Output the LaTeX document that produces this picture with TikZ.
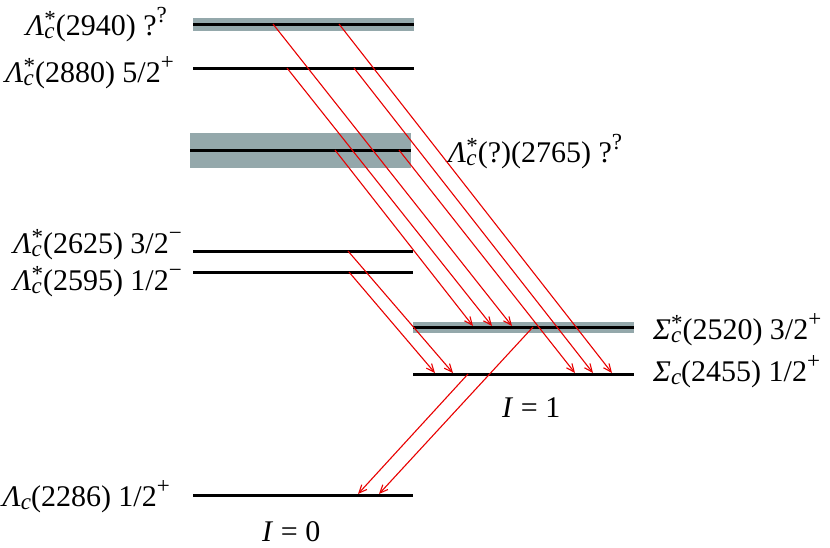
\documentclass[tikz,border=0pt]{standalone}
\usepackage{fontspec}
\setmainfont{Liberation Serif}
\usetikzlibrary{arrows.meta}
\definecolor{bandgray}{RGB}{148,168,171}
\definecolor{arrred}{RGB}{232,0,0}
\newcommand\subsz{\fontsize{23}{23}\selectfont}
\newcommand\pst[1]{\textit{#1}\raisebox{-0.13em}{\rlap{\subsz\textit{c}}}\raisebox{0.3em}{\subsz *}}
\newcommand\pns[1]{\textit{#1}\raisebox{-0.13em}{\subsz\textit{c}}}
\newcommand\spx[1]{\raisebox{0.43em}{\subsz #1}}
\begin{document}
\begin{tikzpicture}[x=1pt,y=-1pt,
  lvl/.style={line width=3pt,black},
  band/.style={fill=bandgray,draw=none},
  lab/.style={inner sep=0pt,font=\fontsize{30}{32}\selectfont},
  tr/.style={arrred,line width=1.1pt,-{Straight Barb[length=8pt,width=7pt]}}]
\useasboundingbox (0,0) rectangle (830,547);
% bands
\fill[band] (193,18) rectangle (414,31);
\fill[band] (190,133) rectangle (411,168);
\fill[band] (413,322) rectangle (634,333);
% levels
\draw[lvl] (193,24) -- (414,24);
\draw[lvl] (193,68) -- (414,68);
\draw[lvl] (190,150) -- (411,150);
\draw[lvl] (193,251) -- (413,251);
\draw[lvl] (193,272) -- (413,272);
\draw[lvl] (413,327) -- (634,327);
\draw[lvl] (413,374) -- (634,374);
\draw[lvl] (193,495) -- (413,495);
% labels
\node[lab,anchor=base east] (l2940) at (167,35) {\pst{Λ}(2940) ?\spx{?}};
\node[lab,anchor=base east] (l2880) at (174,82) {\pst{Λ}(2880) 5/2\spx{+}};
\node[lab,anchor=base west] (l2765) at (448,162) {\pst{Λ}(?)(2765) ?\spx{?}};
\node[lab,anchor=base east] (l2625) at (182,253) {\pst{Λ}(2625) 3/2\spx{−}};
\node[lab,anchor=base east] (l2595) at (182,290) {\pst{Λ}(2595) 1/2\spx{−}};
\node[lab,anchor=base east] (l2286) at (170,506) {\pns{Λ}(2286) 1/2\spx{+}};
\node[lab,anchor=base west] (l2520) at (653,339) {\pst{Σ}(2520) 3/2\spx{+}};
\node[lab,anchor=base west] (l2455) at (653,381) {\pns{Σ}(2455) 1/2\spx{+}};
\node[lab,anchor=base west] (iso1) at (502,417) {\textit{I} = 1};
\node[lab,anchor=base west] (iso0) at (262,541) {\textit{I} = 0};
% transition endpoints
\coordinate (s1) at (273,24);  \coordinate (e1) at (512,326);
\coordinate (s2) at (339,24);  \coordinate (e2) at (612,373);
\coordinate (s3) at (287,68);  \coordinate (e3) at (492,326);
\coordinate (s4) at (354,68);  \coordinate (e4) at (593,373);
\coordinate (s5) at (335,150); \coordinate (e5) at (473,326);
\coordinate (s6) at (399,150); \coordinate (e6) at (575,373);
\coordinate (s7) at (348,251); \coordinate (e7) at (453,373);
\coordinate (s8) at (349,272); \coordinate (e8) at (435,373);
\coordinate (s9) at (533,327); \coordinate (e9) at (379,494);
\coordinate (s10) at (468,374); \coordinate (e10) at (358,494);
\foreach \i in {1,...,10} \draw[tr] (s\i) -- (e\i);
\end{tikzpicture}
\end{document}
